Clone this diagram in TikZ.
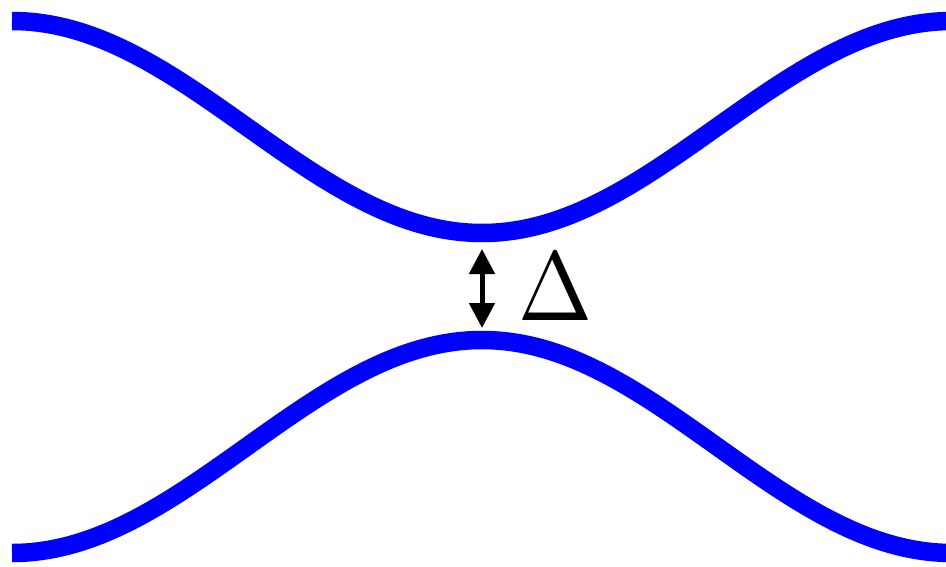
\documentclass[tikz,border=0pt]{standalone}
\usepackage{tikz}
\usetikzlibrary{arrows.meta}
\begin{document}
\begin{tikzpicture}[x=1pt,y=-1pt]
\tikzset{
  lv/.style={draw=blue,line width=18.5pt},
  ar/.style={{Triangle[length=25pt,width=25pt]}-{Triangle[length=25pt,width=25pt]},line width=5pt,draw=black},
  lb/.style={inner sep=0pt}
}
\useasboundingbox (0,0) rectangle (946,566);
\clip (0,0) rectangle (946,566);
% the two levels
\draw[lv,domain=12:952,samples=160,smooth,variable=\t] plot (\t,{127+106*cos((\t-482)/940*360)});
\draw[lv,domain=12:952,samples=160,smooth,variable=\t] plot (\t,{446.5-106.5*cos((\t-482)/940*360)});
\coordinate (up) at (482,249);
\coordinate (lo) at (482,328);
\draw[ar] (up) -- (lo);
\node[lb] (gap) at (555.5,286.5) {\resizebox{74pt}{67pt}{$\Delta$}};
\end{tikzpicture}
\end{document}
